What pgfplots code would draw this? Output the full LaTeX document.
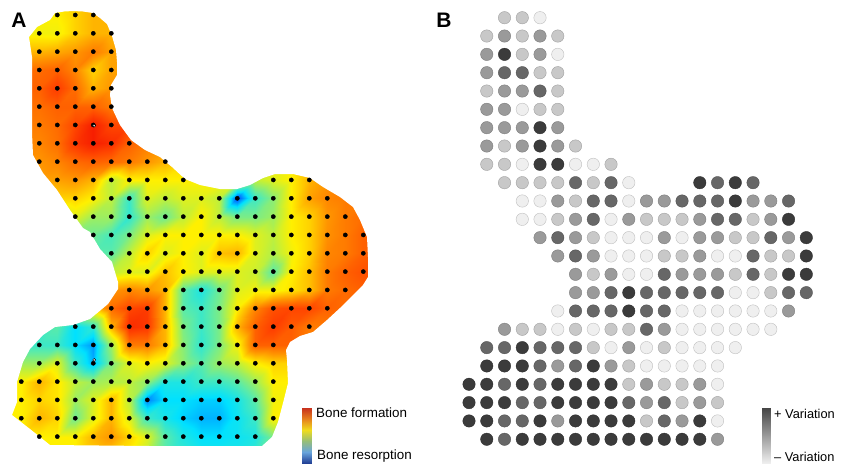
\documentclass[border=0pt]{standalone}
\usepackage{pgfplots}
\pgfplotsset{compat=1.18}
\usepackage{fontspec}
\setmainfont{Liberation Sans}
% field colours, meta runs 0..10 in half steps
\pgfplotsset{
  colormap={heat}{rgb255(0)=(0,40,255); rgb255(4)=(0,225,255); rgb255(7)=(90,235,170);
    rgb255(10)=(190,240,60); rgb255(12)=(255,240,0); rgb255(15)=(255,150,0);
    rgb255(18)=(255,70,0); rgb255(20)=(245,20,0)},
  colormap={legA}{rgb255(0)=(35,65,150); rgb255(1)=(105,165,220); rgb255(2)=(150,190,120);
    rgb255(3)=(240,220,30); rgb255(4)=(230,130,30); rgb255(5)=(200,50,30)},
  colormap={legB}{rgb255(0)=(238,238,238); rgb255(1)=(70,70,70)},
  colormap={bw}{gray(0)=(0); gray(1)=(1)},
  page/.style={scale only axis, width=845pt, height=464pt, at={(0,0)}, anchor=south west,
    hide axis, y dir=reverse, clip=true},
  gridA/.style={page, xmin=-1.183, xmax=45.76, ymin=-0.818, ymax=24.496},
  gridB/.style={page, xmin=-26.42, xmax=21.18, ymin=-0.966, ymax=24.35},
  pixel/.style={page, xmin=0, xmax=845, ymin=0, ymax=464},
}
\begin{document}
\begin{tikzpicture}
\clip (0,0) rectangle (845pt,464pt);
% panel A: field on the measuring grid
\begin{axis}[gridA, colormap name=heat, point meta min=0, point meta max=10]
\addplot[surf, shader=interp, mesh/cols=22, point meta=explicit] coordinates {
(-1,-1)[6](0,-1)[6](1,-1)[6](2,-1)[6](3,-1)[6.5](4,-1)[7](5,-1)[7](6,-1)[7](7,-1)[7](8,-1)[7](9,-1)[7](10,-1)[7](11,-1)[7](12,-1)[7](13,-1)[7](14,-1)[7](15,-1)[7](16,-1)[7](17,-1)[7](18,-1)[7](19,-1)[7](20,-1)[7]
(-1,0)[6](0,0)[6](1,0)[6](2,0)[6](3,0)[6.5](4,0)[7](5,0)[7](6,0)[7](7,0)[7](8,0)[7](9,0)[7](10,0)[7](11,0)[7](12,0)[7](13,0)[7](14,0)[7](15,0)[7](16,0)[7](17,0)[7](18,0)[7](19,0)[7](20,0)[7]
(-1,1)[5.8](0,1)[5.8](1,1)[5.8](2,1)[5.8](3,1)[6.5](4,1)[7](5,1)[7](6,1)[7](7,1)[7](8,1)[7](9,1)[7](10,1)[7](11,1)[7](12,1)[7](13,1)[7](14,1)[7](15,1)[7](16,1)[7](17,1)[7](18,1)[7](19,1)[7](20,1)[7]
(-1,2)[7](0,2)[7](1,2)[7](2,2)[7.2](3,2)[7.5](4,2)[8](5,2)[7.3](6,2)[7.3](7,2)[7](8,2)[7](9,2)[7](10,2)[7](11,2)[7](12,2)[7](13,2)[7](14,2)[7](15,2)[7](16,2)[7](17,2)[7](18,2)[7](19,2)[7](20,2)[7]
(-1,3)[8.3](0,3)[8.3](1,3)[8.3](2,3)[8.5](3,3)[7.8](4,3)[6.5](5,3)[7.3](6,3)[7.3](7,3)[7](8,3)[7](9,3)[7](10,3)[7](11,3)[7](12,3)[7](13,3)[7](14,3)[7](15,3)[7](16,3)[7](17,3)[7](18,3)[7](19,3)[7](20,3)[7]
(-1,4)[8.5](0,4)[8.5](1,4)[8.5](2,4)[9.2](3,4)[8.3](4,4)[7](5,4)[7.5](6,4)[7.5](7,4)[7](8,4)[7](9,4)[7](10,4)[7](11,4)[7](12,4)[7](13,4)[7](14,4)[7](15,4)[7](16,4)[7](17,4)[7](18,4)[7](19,4)[7](20,4)[7]
(-1,5)[8.2](0,5)[8.2](1,5)[8.2](2,5)[8.5](3,5)[8.5](4,5)[8.5](5,5)[8](6,5)[8](7,5)[8](8,5)[7](9,5)[7](10,5)[7](11,5)[7](12,5)[7](13,5)[7](14,5)[7](15,5)[7](16,5)[7](17,5)[7](18,5)[7](19,5)[7](20,5)[7]
(-1,6)[8](0,6)[8](1,6)[8](2,6)[8.3](3,6)[9](4,6)[9.8](5,6)[9](6,6)[9](7,6)[8](8,6)[7](9,6)[7](10,6)[7](11,6)[7](12,6)[7](13,6)[7](14,6)[7](15,6)[7](16,6)[7](17,6)[7](18,6)[7](19,6)[7](20,6)[7]
(-1,7)[7.8](0,7)[7.8](1,7)[7.8](2,7)[8.2](3,7)[9.3](4,7)[9.8](5,7)[9.5](6,7)[8.5](7,7)[8](8,7)[7.5](9,7)[7](10,7)[7](11,7)[7](12,7)[7](13,7)[7](14,7)[7](15,7)[7](16,7)[7](17,7)[7](18,7)[7](19,7)[7](20,7)[7]
(-1,8)[7.5](0,8)[7.5](1,8)[7.5](2,8)[7.8](3,8)[8.3](4,8)[8.5](5,8)[8.3](6,8)[8](7,8)[7.5](8,8)[7](9,8)[6.5](10,8)[6](11,8)[6](12,8)[6](13,8)[6](14,8)[6](15,8)[6](16,8)[7](17,8)[7.5](18,8)[7.5](19,8)[7.5](20,8)[7.5]
(-1,9)[7.3](0,9)[7.3](1,9)[7.3](2,9)[7.3](3,9)[7.5](4,9)[7](5,9)[5](6,9)[6](7,9)[6](8,9)[6](9,9)[6](10,9)[6](11,9)[6](12,9)[5.5](13,9)[5](14,9)[5.5](15,9)[6](16,9)[7](17,9)[7.5](18,9)[7.8](19,9)[8](20,9)[8]
(-1,10)[6.5](0,10)[6.5](1,10)[6.5](2,10)[6.5](3,10)[6.5](4,10)[6](5,10)[5](6,10)[3](7,10)[5.5](8,10)[5](9,10)[5.5](10,10)[5.5](11,10)[5](12,10)[.3](13,10)[3](14,10)[4.2](15,10)[6](16,10)[7.3](17,10)[7.8](18,10)[8](19,10)[8](20,10)[8]
(-1,11)[5](0,11)[5](1,11)[5](2,11)[5](3,11)[5.5](4,11)[4.5](5,11)[4.5](6,11)[2.8](7,11)[4.5](8,11)[3.8](9,11)[5](10,11)[6](11,11)[5](12,11)[4](13,11)[4](14,11)[4.5](15,11)[6](16,11)[6.5](17,11)[7.5](18,11)[8](19,11)[8.3](20,11)[8.3]
(-1,12)[4](0,12)[4](1,12)[4](2,12)[4](3,12)[4](4,12)[3.8](5,12)[3.2](6,12)[4](7,12)[5.5](8,12)[6](9,12)[6](10,12)[6](11,12)[6](12,12)[6](13,12)[5.5](14,12)[5](15,12)[6](16,12)[6.5](17,12)[7.6](18,12)[8](19,12)[8.5](20,12)[8.5]
(-1,13)[3.5](0,13)[3.5](1,13)[3.5](2,13)[3.5](3,13)[3.5](4,13)[3.5](5,13)[3.5](6,13)[5](7,13)[6.5](8,13)[5.5](9,13)[6](10,13)[5.5](11,13)[6.8](12,13)[7](13,13)[5.5](14,13)[4.8](15,13)[5.8](16,13)[6.5](17,13)[7.8](18,13)[8](19,13)[8.5](20,13)[8.5]
(-1,14)[5](0,14)[5](1,14)[5](2,14)[5](3,14)[5](4,14)[5](5,14)[5](6,14)[5.5](7,14)[5.5](8,14)[6.8](9,14)[6](10,14)[5.5](11,14)[5.5](12,14)[5.5](13,14)[5.2](14,14)[3.5](15,14)[6](16,14)[6.8](17,14)[8](18,14)[8.5](19,14)[8.8](20,14)[8.8]
(-1,15)[7](0,15)[7](1,15)[7](2,15)[7](3,15)[7](4,15)[7](5,15)[7.5](6,15)[7.8](7,15)[7.5](8,15)[7](9,15)[3.5](10,15)[2.5](11,15)[3.8](12,15)[5.5](13,15)[5.8](14,15)[5.8](15,15)[6.2](16,15)[6.8](17,15)[8](18,15)[8.3](19,15)[8.5](20,15)[8.5]
(-1,16)[6](0,16)[6](1,16)[6](2,16)[6](3,16)[6](4,16)[6.5](5,16)[8.3](6,16)[9](7,16)[9.2](8,16)[7](9,16)[3.5](10,16)[3](11,16)[4](12,16)[6](13,16)[7.8](14,16)[8.8](15,16)[9](16,16)[9](17,16)[8.5](18,16)[8.3](19,16)[8.3](20,16)[8.3]
(-1,17)[3](0,17)[3](1,17)[3](2,17)[3.5](3,17)[2](4,17)[2.8](5,17)[7](6,17)[9.5](7,17)[9.3](8,17)[7](9,17)[4](10,17)[3](11,17)[4](12,17)[7](13,17)[8.5](14,17)[9.2](15,17)[8.6](16,17)[8](17,17)[8](18,17)[8](19,17)[8](20,17)[8]
(-1,18)[3](0,18)[3](1,18)[3](2,18)[3](3,18)[2](4,18)[1.2](5,18)[4.5](6,18)[8](7,18)[8](8,18)[7](9,18)[4.2](10,18)[2.8](11,18)[4](12,18)[5.8](13,18)[8.5](14,18)[8.5](15,18)[8.5](16,18)[8](17,18)[8](18,18)[8](19,18)[8](20,18)[8]
(-1,19)[4.5](0,19)[4.5](1,19)[4.5](2,19)[5.5](3,19)[3](4,19)[1.5](5,19)[4](6,19)[5.5](7,19)[6](8,19)[5.5](9,19)[4.3](10,19)[3.5](11,19)[4.5](12,19)[5](13,19)[6](14,19)[6.5](15,19)[6.5](16,19)[6.5](17,19)[6.5](18,19)[6.5](19,19)[6.5](20,19)[6.5]
(-1,20)[6](0,20)[6](1,20)[7](2,20)[6.2](3,20)[5](4,20)[4.5](5,20)[4.8](6,20)[5](7,20)[4.3](8,20)[2.5](9,20)[2.5](10,20)[3](11,20)[3](12,20)[3.5](13,20)[4.5](14,20)[6](15,20)[6](16,20)[6](17,20)[6](18,20)[6](19,20)[6](20,20)[6]
(-1,21)[6](0,21)[6](1,21)[6.5](2,21)[6.2](3,21)[4.5](4,21)[5.5](5,21)[7](6,21)[5](7,21)[1](8,21)[2](9,21)[2](10,21)[1.8](11,21)[1.8](12,21)[2.4](13,21)[3.5](14,21)[5.8](15,21)[6](16,21)[6](17,21)[6](18,21)[6](19,21)[6](20,21)[6]
(-1,22)[6](0,22)[6](1,22)[7](2,22)[6.5](3,22)[3.8](4,22)[5.5](5,22)[7](6,22)[5.5](7,22)[3](8,22)[2.4](9,22)[1.8](10,22)[1.5](11,22)[1.5](12,22)[2.2](13,22)[3](14,22)[6](15,22)[6](16,22)[6](17,22)[6](18,22)[6](19,22)[6](20,22)[6]
(-1,23)[6](0,23)[6](1,23)[6](2,23)[6](3,23)[6](4,23)[7](5,23)[7.5](6,23)[6.5](7,23)[5.5](8,23)[3.5](9,23)[2.5](10,23)[2](11,23)[2](12,23)[2.2](13,23)[2.5](14,23)[4](15,23)[5](16,23)[5](17,23)[5](18,23)[5](19,23)[5](20,23)[5]
(-1,24)[6](0,24)[6](1,24)[6](2,24)[6](3,24)[6](4,24)[6.5](5,24)[6.5](6,24)[6](7,24)[5](8,24)[3.5](9,24)[3](10,24)[2.5](11,24)[2.5](12,24)[2.5](13,24)[3](14,24)[4](15,24)[5](16,24)[5](17,24)[5](18,24)[5](19,24)[5](20,24)[5]
};
\end{axis}
% white round the bone outline, then the two colour keys and all text
\begin{axis}[pixel, point meta min=0, point meta max=5]
\addplot[fill=white, draw=none, even odd rule] coordinates {
(-30,-30)(430,-30)(430,494)(-30,494)(-30,-30)
(55,13)(64,11.5)(73,11)(83,11.5)(93,13)(100,18)(107,24)(112,36)(116,50)(117,62)(117,75)(111,85)(110,95)(112,108)(120,125)(131,140)(145,150)(160,157)(172,167)(185,179)(200,185)
(220,189)(237,189)(250,185)(263,178)(275,174)(293,174)(310,178)(323,187)(340,197)(353,207)(360,220)(367,237)(368,257)(368,277)(363,285)(353,295)(340,308)(327,320)(313,332)(300,336)(290,342)(286,350)(287,360)
(288,383)(283,403)(278,422)(272,437)(262,446)(150,446)(50,445)(30,429)(12,415)(17,402)(17,382)(23,362)(30,349)(43,335)(55,327)(73,325)(90,319)(108,304)(118,289)(118,282)(112,262)(100,249)(90,232)
(83,228)(70,210)(57,190)(43,173)(33,155)(32,133)(32,87)(32,57)(29,37)(37,27)(50,20)(55,13)(-30,-30)
};
\addplot[surf, shader=interp, colormap name=legA, mesh/cols=2, point meta=explicit] coordinates {
(302,408)[5](311,408)[5](302,419)[4](311,419)[4](302,430)[3](311,430)[3](302,441)[2](311,441)[2](302,452)[1](311,452)[1](302,463)[0](311,463)[0]
};
\addplot[surf, shader=interp, colormap name=legB, mesh/cols=2, point meta=explicit] coordinates {
(762,408)[5](770,408)[5](762,463)[0](770,463)[0]
};
\node[anchor=center, font=\fontsize{21}{21}\selectfont\bfseries] at (axis cs:19,20) {A};
\node[anchor=center, font=\fontsize{21}{21}\selectfont\bfseries] at (axis cs:444,20) {B};
\node[anchor=west, inner sep=0pt, font=\fontsize{13.4}{14}\selectfont] at (axis cs:316,413) {Bone formation};
\node[anchor=west, inner sep=0pt, font=\fontsize{13.4}{14}\selectfont] at (axis cs:317,456) {Bone resorption};
\node[anchor=west, inner sep=0pt, font=\fontsize{12.8}{13}\selectfont] at (axis cs:774,414) {+ Variation};
\node[anchor=west, inner sep=0pt, font=\fontsize{12.8}{13}\selectfont] at (axis cs:774,457) {– Variation};
\end{axis}
% panel A: measuring points
\begin{axis}[gridA]
\addplot[only marks, mark=*, mark size=2.1pt, mark options={fill=black, draw=none}] coordinates {
(2,0)(3,0)(4,0)
(1,1)(2,1)(3,1)(4,1)(5,1)
(1,2)(2,2)(3,2)(4,2)(5,2)
(1,3)(2,3)(3,3)(4,3)(5,3)
(1,4)(2,4)(3,4)(4,4)(5,4)
(1,5)(2,5)(3,5)(4,5)(5,5)
(1,6)(2,6)(3,6)(4,6)(5,6)
(1,7)(2,7)(3,7)(4,7)(5,7)(6,7)
(1,8)(2,8)(3,8)(4,8)(5,8)(6,8)(7,8)(8,8)
(2,9)(3,9)(4,9)(5,9)(6,9)(7,9)(8,9)(9,9)(14,9)(15,9)(16,9)
(3,10)(4,10)(5,10)(6,10)(7,10)(8,10)(9,10)(10,10)(11,10)(12,10)(13,10)(14,10)(15,10)(16,10)(17,10)
(3,11)(4,11)(5,11)(6,11)(7,11)(8,11)(9,11)(10,11)(11,11)(12,11)(13,11)(14,11)(15,11)(16,11)(17,11)(18,11)
(4,12)(5,12)(6,12)(7,12)(8,12)(9,12)(10,12)(11,12)(12,12)(13,12)(14,12)(15,12)(16,12)(17,12)(18,12)(19,12)
(5,13)(6,13)(7,13)(8,13)(9,13)(10,13)(11,13)(12,13)(13,13)(14,13)(15,13)(16,13)(17,13)(18,13)(19,13)
(6,14)(7,14)(8,14)(9,14)(10,14)(11,14)(12,14)(13,14)(14,14)(15,14)(16,14)(17,14)(18,14)(19,14)
(6,15)(7,15)(8,15)(9,15)(10,15)(11,15)(12,15)(13,15)(14,15)(15,15)(16,15)(17,15)(18,15)
(5,16)(6,16)(7,16)(8,16)(9,16)(10,16)(11,16)(12,16)(13,16)(14,16)(15,16)(16,16)(17,16)
(3,17)(4,17)(5,17)(6,17)(7,17)(8,17)(9,17)(10,17)(11,17)(12,17)(13,17)(14,17)(15,17)(16,17)
(1,18)(2,18)(3,18)(4,18)(5,18)(6,18)(7,18)(8,18)(9,18)(10,18)(11,18)(12,18)(13,18)(14,18)
(1,19)(2,19)(3,19)(4,19)(5,19)(6,19)(7,19)(8,19)(9,19)(10,19)(11,19)(12,19)(13,19)(14,19)
(0,20)(1,20)(2,20)(3,20)(4,20)(5,20)(6,20)(7,20)(8,20)(9,20)(10,20)(11,20)(12,20)(13,20)(14,20)
(0,21)(1,21)(2,21)(3,21)(4,21)(5,21)(6,21)(7,21)(8,21)(9,21)(10,21)(11,21)(12,21)(13,21)(14,21)
(0,22)(1,22)(2,22)(3,22)(4,22)(5,22)(6,22)(7,22)(8,22)(9,22)(10,22)(11,22)(12,22)(13,22)(14,22)
(1,23)(2,23)(3,23)(4,23)(5,23)(6,23)(7,23)(8,23)(9,23)(10,23)(11,23)(12,23)(13,23)
};
\addplot[only marks, mark=*, mark size=1.5pt, mark options={fill=white!85!gray, draw=none}] coordinates {(4.05,6.04)(4.05,18.82)};
\end{axis}
% panel B: grey level of each point
\begin{axis}[gridB, colormap name=bw, point meta min=0, point meta max=1]
\addplot[scatter, only marks, mark=*, mark size=6.2pt, scatter src=explicit] coordinates {
(2,0)[.78](3,0)[.78](4,0)[.93]
(1,1)[.78](2,1)[.6](3,1)[.78](4,1)[.6](5,1)[.78]
(1,2)[.6](2,2)[.23](3,2)[.78](4,2)[.6](5,2)[.93]
(1,3)[.6](2,3)[.4](3,3)[.4](4,3)[.78](5,3)[.78]
(1,4)[.78](2,4)[.6](3,4)[.6](4,4)[.4](5,4)[.78]
(1,5)[.6](2,5)[.6](3,5)[.93](4,5)[.78](5,5)[.78]
(1,6)[.6](2,6)[.6](3,6)[.6](4,6)[.23](5,6)[.6]
(1,7)[.6](2,7)[.78](3,7)[.6](4,7)[.23](5,7)[.6](6,7)[.78]
(1,8)[.78](2,8)[.78](3,8)[.93](4,8)[.23](5,8)[.23](6,8)[.93](7,8)[.93](8,8)[.78]
(2,9)[.78](3,9)[.78](4,9)[.78](5,9)[.78](6,9)[.4](7,9)[.78](8,9)[.4](9,9)[.93](13,9)[.23](14,9)[.4](15,9)[.23](16,9)[.4]
(3,10)[.93](4,10)[.93](5,10)[.6](6,10)[.78](7,10)[.4](8,10)[.4](9,10)[.93](10,10)[.6](11,10)[.6](12,10)[.4](13,10)[.4](14,10)[.4](15,10)[.23](16,10)[.6](17,10)[.6](18,10)[.4]
(3,11)[.93](4,11)[.93](5,11)[.78](6,11)[.6](7,11)[.4](8,11)[.93](9,11)[.6](10,11)[.78](11,11)[.78](12,11)[.78](13,11)[.6](14,11)[.4](15,11)[.4](16,11)[.78](17,11)[.6](18,11)[.23]
(4,12)[.6](5,12)[.4](6,12)[.6](7,12)[.78](8,12)[.93](9,12)[.93](10,12)[.93](11,12)[.6](12,12)[.93](13,12)[.6](14,12)[.6](15,12)[.78](16,12)[.78](17,12)[.4](18,12)[.6](19,12)[.23]
(5,13)[.6](6,13)[.4](7,13)[.6](8,13)[.93](9,13)[.93](10,13)[.93](11,13)[.78](12,13)[.78](13,13)[.6](14,13)[.93](15,13)[.93](16,13)[.4](17,13)[.78](18,13)[.78](19,13)[.23]
(6,14)[.6](7,14)[.78](8,14)[.6](9,14)[.93](10,14)[.93](11,14)[.4](12,14)[.6](13,14)[.6](14,14)[.6](15,14)[.78](16,14)[.4](17,14)[.78](18,14)[.23](19,14)[.23]
(6,15)[.6](7,15)[.6](8,15)[.4](9,15)[.23](10,15)[.4](11,15)[.4](12,15)[.4](13,15)[.4](14,15)[.4](15,15)[.93](16,15)[.93](17,15)[.78](18,15)[.4](19,15)[.4]
(5,16)[.93](6,16)[.4](7,16)[.4](8,16)[.4](9,16)[.23](10,16)[.4](11,16)[.4](12,16)[.93](13,16)[.93](14,16)[.93](15,16)[.93](16,16)[.93](17,16)[.93](18,16)[.6]
(2,17)[.6](3,17)[.78](4,17)[.78](5,17)[.93](6,17)[.78](7,17)[.93](8,17)[.78](9,17)[.78](10,17)[.4](11,17)[.6](12,17)[.93](13,17)[.93](14,17)[.93](15,17)[.93](16,17)[.93](17,17)[.93]
(1,18)[.4](2,18)[.4](3,18)[.23](4,18)[.4](5,18)[.4](6,18)[.4](7,18)[.78](8,18)[.93](9,18)[.6](10,18)[.93](11,18)[.78](12,18)[.93](13,18)[.93](14,18)[.93](15,18)[.93]
(1,19)[.23](2,19)[.23](3,19)[.23](4,19)[.4](5,19)[.6](6,19)[.4](7,19)[.23](8,19)[.6](9,19)[.78](10,19)[.93](11,19)[.93](12,19)[.93](13,19)[.93](14,19)[.93]
(0,20)[.23](1,20)[.23](2,20)[.4](3,20)[.23](4,20)[.4](5,20)[.23](6,20)[.23](7,20)[.23](8,20)[.23](9,20)[.78](10,20)[.6](11,20)[.78](12,20)[.78](13,20)[.6](14,20)[.93]
(0,21)[.23](1,21)[.23](2,21)[.23](3,21)[.4](4,21)[.4](5,21)[.23](6,21)[.23](7,21)[.23](8,21)[.23](9,21)[.4](10,21)[.6](11,21)[.4](12,21)[.78](13,21)[.6](14,21)[.78]
(0,22)[.23](1,22)[.23](2,22)[.4](3,22)[.4](4,22)[.23](5,22)[.6](6,22)[.23](7,22)[.23](8,22)[.23](9,22)[.23](10,22)[.78](11,22)[.4](12,22)[.6](13,22)[.23](14,22)[.93]
(1,23)[.23](2,23)[.4](3,23)[.23](4,23)[.23](5,23)[.23](6,23)[.23](7,23)[.23](8,23)[.23](9,23)[.23](10,23)[.23](11,23)[.23](12,23)[.23](13,23)[.23](14,23)[.6]
};
\end{axis}
\end{tikzpicture}
\end{document}
